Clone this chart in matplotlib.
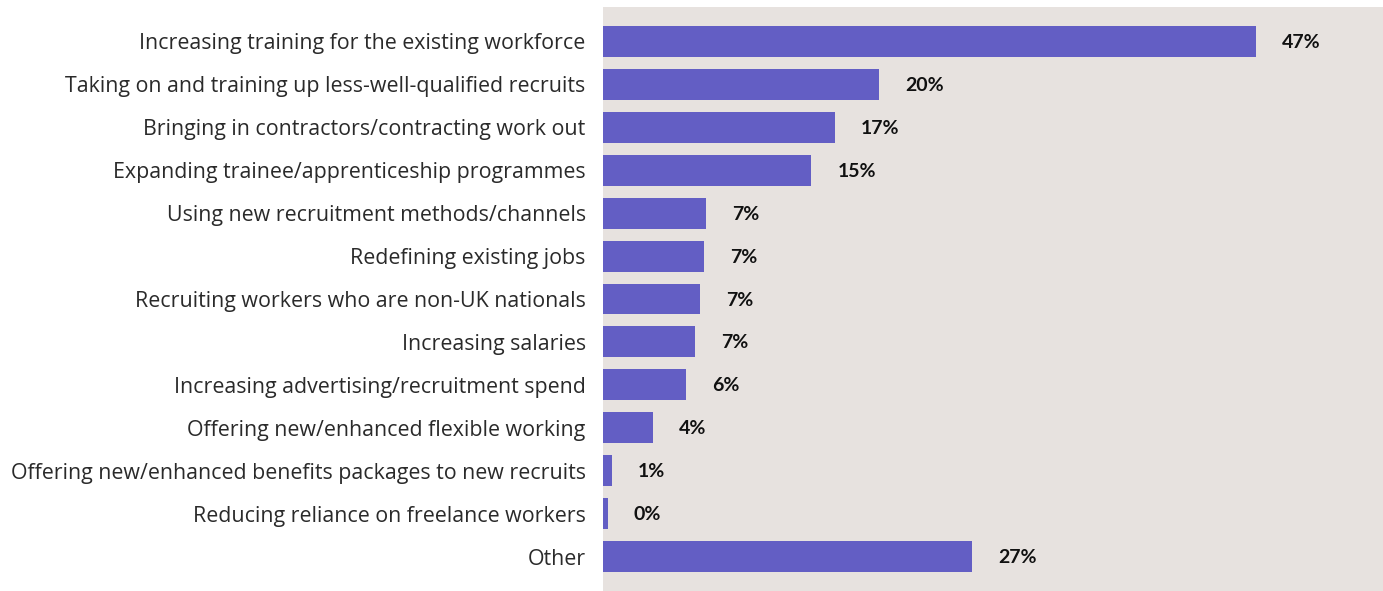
import matplotlib
matplotlib.use("Agg")
import matplotlib.pyplot as plt

categories = [
    "Increasing training for the existing workforce",
    "Taking on and training up less-well-qualified recruits",
    "Bringing in contractors/contracting work out",
    "Expanding trainee/apprenticeship programmes",
    "Using new recruitment methods/channels",
    "Redefining existing jobs",
    "Recruiting workers who are non-UK nationals",
    "Increasing salaries",
    "Increasing advertising/recruitment spend",
    "Offering new/enhanced flexible working",
    "Offering new/enhanced benefits packages to new recruits",
    "Reducing reliance on freelance workers",
    "Other",
]
values = [47.0, 19.9, 16.7, 15.0, 7.4, 7.3, 7.0, 6.6, 6.0, 3.6, 0.65, 0.34, 26.6]

BAR_COLOR = "#635ec4"
BG_COLOR = "#e7e2df"

W, H = 1383, 591
fig = plt.figure(figsize=(W / 100, H / 100), dpi=100)
ax = fig.add_axes([603 / W, 0, 1 - 603 / W, (H - 7) / H])
ax.set_facecolor(BG_COLOR)

y = list(range(len(categories)))
bars = ax.barh(y, values, height=0.72, color=BAR_COLOR)

ax.set_xlim(0, 56.16)
ax.set_ylim(len(categories) - 0.2, -0.8)

ax.set_yticks(y)
ax.set_yticklabels(categories, fontsize=15.4,
                   family=["Open Sans", "DejaVu Sans"], color="#2a2a2a")
ax.tick_params(axis="y", length=0, pad=12.5)
ax.set_xticks([])
for s in ax.spines.values():
    s.set_visible(False)

for bar, v in zip(bars, values):
    ax.annotate(f"{round(v):d}%",
                xy=(bar.get_width(), bar.get_y() + bar.get_height() / 2),
                xytext=(26, -1), textcoords="offset pixels",
                ha="left", va="center", fontsize=14, fontweight="bold",
                family=["Lato", "DejaVu Sans"], color="#111111")

fig.savefig("out.png", dpi=100)
